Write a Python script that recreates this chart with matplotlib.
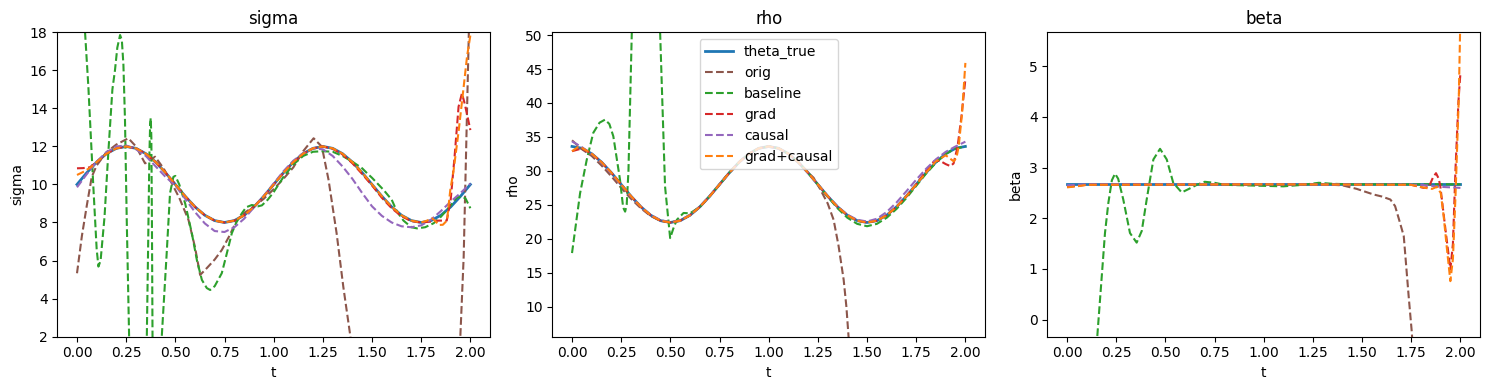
import numpy as np
import matplotlib
matplotlib.use("Agg")
import matplotlib.pyplot as plt

t_grid = np.linspace(0, 2, 41)

# ---- sigma ----
sig_true = [10.0, 10.62, 11.18, 11.62, 11.9, 12.0, 11.9, 11.62, 11.18, 10.62, 10.0,
            9.38, 8.82, 8.38, 8.1, 8.0, 8.1, 8.38, 8.82, 9.38, 10.0,
            10.62, 11.18, 11.62, 11.9, 12.0, 11.9, 11.62, 11.18, 10.62, 10.0,
            9.38, 8.82, 8.38, 8.1, 8.0, 8.1, 8.38, 8.82, 9.38, 10.0]

sig_orig_t = [0, 0.025, 0.05, 0.075, 0.1, 0.15, 0.2, 0.261, 0.3, 0.346, 0.397, 0.44, 0.482,
              0.52, 0.567, 0.6, 0.626, 0.66, 0.7, 0.736, 0.775, 0.813, 0.85, 0.9, 0.95, 1.0,
              1.05, 1.1, 1.15, 1.203, 1.245, 1.279, 1.32, 1.354, 1.389, 1.42, 1.5, 1.6, 1.7,
              1.8, 1.9, 1.93, 1.949, 1.966, 1.992, 2.0]
sig_orig = [5.33, 7.3, 8.9, 10.4, 11.0, 11.7, 12.1, 12.43, 12.0, 11.11, 11.46, 10.85, 10.06,
            9.3, 8.13, 6.7, 5.24, 5.6, 6.05, 6.55, 7.3, 8.13, 8.5, 8.85, 9.25, 9.75,
            10.3, 10.9, 11.75, 12.43, 11.99, 10.24, 7.43, 4.62, 2.08, -0.5, -8, -15, -18,
            -16, -9, -3, 2.0, 6.2, 17.9, 22.0]

sig_base_t = [0, 0.02, 0.041, 0.058, 0.083, 0.1, 0.109, 0.12, 0.14, 0.159, 0.18, 0.193, 0.205,
              0.219, 0.228, 0.236, 0.244, 0.253, 0.265, 0.28, 0.31, 0.34, 0.35, 0.355, 0.362,
              0.368, 0.372, 0.375, 0.378, 0.381, 0.384, 0.39, 0.41, 0.431, 0.456, 0.473, 0.49,
              0.5, 0.52, 0.55, 0.584, 0.61, 0.635, 0.66, 0.677, 0.7, 0.736, 0.76, 0.787, 0.81,
              0.838, 0.86, 0.889, 0.92, 0.94, 0.97, 1.0, 1.05, 1.1, 1.15, 1.2, 1.25, 1.3, 1.35,
              1.4, 1.45, 1.474, 1.5, 1.559, 1.6, 1.627, 1.66, 1.7, 1.729, 1.77, 1.813, 1.85,
              1.9, 1.93, 1.955, 1.975, 2.0]
sig_base = [30, 24, 18, 15.1, 9.9, 6.6, 5.68, 6.0, 8.3, 11.64, 15.0, 16.0, 17.2,
            17.86, 17.6, 16.3, 13.4, 8.1, 2.0, -4, -8, -4, -1, 2, 7,
            11.5, 13.2, 13.5, 12.5, 8, 2, -4, -6, 2, 6.38, 9.54, 10.4,
            10.45, 10.0, 9.0, 7.43, 6.0, 4.98, 4.55, 4.45, 4.65, 5.33, 6.3, 7.43, 8.0,
            8.48, 8.8, 8.92, 8.85, 8.9, 9.2, 9.6, 10.4, 11.05, 11.5, 11.72, 11.75, 11.72, 11.5,
            11.2, 10.85, 10.6, 10.35, 9.71, 9.2, 8.57, 8.1, 7.75, 7.69, 7.75, 7.96, 8.3,
            8.9, 9.3, 9.36, 9.27, 8.75]

sig_grad_t = [0, 0.03, 0.065, 0.1, 0.15, 0.2, 0.25, 0.3, 0.35, 0.4, 0.45, 0.5, 0.55, 0.6, 0.65,
              0.7, 0.75, 0.8, 0.85, 0.9, 0.95, 1.0, 1.05, 1.1, 1.15, 1.2, 1.25, 1.3, 1.35, 1.4,
              1.45, 1.5, 1.55, 1.6, 1.65, 1.7, 1.75, 1.8, 1.84, 1.88, 1.9, 1.92, 1.94, 1.957,
              1.97, 1.985, 2.0]
sig_grad = [10.85, 10.86, 10.9, 11.18, 11.62, 11.9, 12.0, 11.9, 11.62, 11.18, 10.62, 10.0, 9.38,
            8.82, 8.38, 8.1, 8.0, 8.1, 8.38, 8.82, 9.38, 10.0, 10.62, 11.18, 11.62, 11.9, 12.0,
            11.88, 11.58, 11.12, 10.55, 9.95, 9.3, 8.75, 8.33, 8.07, 8.0, 8.05, 8.1, 8.1, 9.2,
            11.5, 14.09, 14.79, 14.3, 13.6, 12.86]

sig_causal = [9.85, 10.55, 11.2, 11.7, 12.0, 12.05, 11.85, 11.5, 10.95, 10.4, 9.95,
              9.25, 8.55, 7.95, 7.55, 7.5, 7.75, 8.2, 8.8, 9.4, 10.05,
              10.7, 11.25, 11.65, 11.9, 11.85, 11.5, 10.95, 10.3, 9.55, 8.85,
              8.35, 8.0, 7.8, 7.75, 7.85, 8.15, 8.6, 9.1, 9.55, 10.05]

sig_gc_t = [0, 0.03, 0.07, 0.1, 0.15, 0.2, 0.25, 0.3, 0.35, 0.4, 0.45, 0.5, 0.55, 0.6, 0.65, 0.7,
            0.75, 0.8, 0.85, 0.9, 0.95, 1.0, 1.05, 1.1, 1.15, 1.2, 1.25, 1.3, 1.35, 1.4, 1.45,
            1.5, 1.55, 1.6, 1.65, 1.7, 1.75, 1.78, 1.805, 1.82, 1.839, 1.86, 1.881, 1.898,
            1.915, 1.941, 1.966, 1.983, 2.0]
sig_gc = [10.5, 10.65, 10.9, 11.18, 11.62, 11.9, 12.0, 11.9, 11.62, 11.18, 10.62, 10.0, 9.38,
          8.82, 8.38, 8.1, 8.0, 8.1, 8.38, 8.82, 9.38, 10.0, 10.62, 11.18, 11.62, 11.9, 12.0,
          11.9, 11.62, 11.18, 10.62, 10.0, 9.38, 8.82, 8.38, 8.1, 8.0, 8.1, 8.22, 8.1, 7.87,
          7.88, 8.1, 9.71, 10.76, 12.86, 15.14, 16.72, 17.85]

# ---- rho ----
rho_true = [33.6, 33.33, 32.53, 31.29, 29.73, 28.0, 26.27, 24.71, 23.47, 22.67, 22.4,
            22.67, 23.47, 24.71, 26.27, 28.0, 29.73, 31.29, 32.53, 33.33, 33.6,
            33.33, 32.53, 31.29, 29.73, 28.0, 26.27, 24.71, 23.47, 22.67, 22.4,
            22.67, 23.47, 24.71, 26.27, 28.0, 29.73, 31.29, 32.53, 33.33, 33.6]

rho_orig_t = [0, 0.05, 0.1, 0.15, 0.2, 0.25, 0.3, 0.35, 0.4, 0.45, 0.5, 0.55, 0.6, 0.65, 0.7,
              0.75, 0.8, 0.85, 0.9, 0.95, 1.0, 1.05, 1.1, 1.15, 1.2, 1.228, 1.26, 1.3, 1.33,
              1.355, 1.381, 1.395, 1.406, 1.45, 1.6, 1.8, 2.0]
rho_orig = [34.5, 33.2, 32.2, 30.8, 29.2, 27.5, 25.9, 24.5, 23.35, 22.65, 22.4, 22.67, 23.47,
            24.71, 26.27, 28.0, 29.73, 31.29, 32.53, 33.33, 33.6, 33.33, 32.53, 31.29, 29.73,
            29.0, 27.4, 25.2, 22.8, 19.0, 14.0, 10.0, 5.6, -8, -40, -80, -120]

rho_base_t = [0, 0.041, 0.075, 0.108, 0.14, 0.168, 0.19, 0.21, 0.244, 0.26, 0.27, 0.278,
              0.287, 0.304, 0.33, 0.375, 0.42, 0.448, 0.473, 0.499, 0.515, 0.533, 0.567, 0.6,
              0.65, 0.7, 0.75, 0.8, 0.85, 0.9, 0.95, 1.0, 1.05, 1.1, 1.15, 1.2, 1.25, 1.3,
              1.35, 1.4, 1.45, 1.5, 1.55, 1.6, 1.65, 1.7, 1.75, 1.8, 1.85, 1.9, 1.95, 2.0]
rho_base = [17.9, 26.7, 31.65, 35.6, 37.1, 37.55, 36.9, 35.1, 28.7, 24.6, 24.0, 25.0,
            30.0, 50.4, 70, 85, 70, 50.4, 27.7, 20.1, 21.5, 22.8, 23.8, 23.75,
            24.7, 26.27, 28.0, 29.73, 31.29, 32.53, 33.33, 33.6, 33.33, 32.53, 31.29, 29.73,
            28.0, 26.2, 24.5, 23.1, 22.2, 21.85, 22.2, 23.1, 24.4, 26.0, 27.8, 29.6, 31.2,
            32.5, 33.3, 33.6]

rho_grad_t = [0, 0.05, 0.1, 0.15, 0.2, 0.25, 0.3, 0.35, 0.4, 0.45, 0.5, 0.55, 0.6, 0.65, 0.7,
              0.75, 0.8, 0.85, 0.9, 0.95, 1.0, 1.05, 1.1, 1.15, 1.2, 1.25, 1.3, 1.35, 1.4, 1.45,
              1.5, 1.55, 1.6, 1.65, 1.7, 1.75, 1.8, 1.84, 1.87, 1.9, 1.924, 1.94, 1.96, 1.98, 2.0]
rho_grad = [32.9, 33.3, 32.53, 31.29, 29.73, 28.0, 26.27, 24.71, 23.47, 22.67, 22.4, 22.67,
            23.47, 24.71, 26.27, 28.0, 29.73, 31.29, 32.53, 33.33, 33.6, 33.33, 32.53, 31.29,
            29.73, 28.0, 26.27, 24.71, 23.47, 22.67, 22.4, 22.67, 23.47, 24.71, 26.27, 28.0,
            30.0, 31.4, 31.5, 31.0, 30.7, 31.1, 33.5, 38.0, 43.5]

rho_causal = [34.35, 33.5, 32.5, 31.2, 29.6, 27.9, 26.2, 24.7, 23.5, 22.75, 22.45,
              22.7, 23.5, 24.75, 26.3, 28.0, 29.7, 31.25, 32.5, 33.3, 33.55,
              33.3, 32.5, 31.25, 29.7, 28.0, 26.3, 24.75, 23.55, 22.8, 22.55,
              22.95, 23.95, 25.35, 27.0, 28.7, 30.3, 31.7, 32.8, 33.6, 34.3]

rho_gc_t = [0, 0.03, 0.05, 0.1, 0.15, 0.2, 0.25, 0.3, 0.35, 0.4, 0.45, 0.5, 0.55, 0.6, 0.65,
            0.7, 0.75, 0.8, 0.85, 0.9, 0.95, 1.0, 1.05, 1.1, 1.15, 1.2, 1.25, 1.3, 1.35, 1.4,
            1.45, 1.5, 1.55, 1.6, 1.65, 1.7, 1.75, 1.8, 1.85, 1.9, 1.941, 1.955, 1.966, 1.983, 2.0]
rho_gc = [32.9, 33.5, 33.4, 32.53, 31.29, 29.73, 28.0, 26.27, 24.71, 23.47, 22.67, 22.4,
          22.67, 23.47, 24.71, 26.27, 28.0, 29.73, 31.29, 32.53, 33.33, 33.6, 33.33, 32.53,
          31.29, 29.73, 28.0, 26.27, 24.71, 23.47, 22.67, 22.4, 22.67, 23.47, 24.71, 26.27,
          28.0, 29.73, 31.4, 32.3, 31.4, 32.0, 33.6, 38.5, 45.9]

# ---- beta ----
beta_true_t = [0, 1, 2]
beta_true = [2.67, 2.67, 2.67]

beta_orig_t = [0, 0.05, 0.1, 0.3, 0.6, 1.0, 1.3, 1.4, 1.473, 1.558, 1.6, 1.644, 1.668, 1.69,
               1.712, 1.737, 1.753, 1.78, 1.85, 2.0]
beta_orig = [2.62, 2.65, 2.66, 2.67, 2.67, 2.67, 2.67, 2.65, 2.58, 2.47, 2.43, 2.37, 2.24,
             1.95, 1.65, 0.46, -0.25, -2, -8, -20]

beta_base_t = [0, 0.08, 0.154, 0.193, 0.21, 0.228, 0.244, 0.26, 0.286, 0.32, 0.354, 0.38,
               0.405, 0.439, 0.473, 0.507, 0.54, 0.583, 0.62, 0.66, 0.7, 0.75, 0.8, 0.9, 1.0,
               1.1, 1.2, 1.28, 1.35, 1.45, 1.6, 1.8, 2.0]
beta_base = [-8, -3.5, -0.32, 1.71, 2.3, 2.75, 2.88, 2.78, 2.37, 1.71, 1.52, 1.75,
             2.37, 3.16, 3.37, 3.16, 2.7, 2.51, 2.58, 2.66, 2.72, 2.7, 2.66, 2.65, 2.64,
             2.63, 2.66, 2.7, 2.68, 2.67, 2.67, 2.67, 2.67]

beta_grad_t = [0, 0.05, 0.1, 1.0, 1.75, 1.813, 1.84, 1.86, 1.876, 1.89, 1.898, 1.924, 1.949,
               1.962, 1.975, 1.99, 2.0]
beta_grad = [2.62, 2.64, 2.66, 2.67, 2.66, 2.6, 2.62, 2.8, 2.89, 2.78, 2.63, 1.78, 0.99,
             1.5, 2.96, 4.3, 4.86]

beta_causal_t = [0, 0.1, 1.0, 1.8, 1.9, 2.0]
beta_causal = [2.65, 2.67, 2.67, 2.66, 2.62, 2.6]

beta_gc_t = [0, 0.05, 0.1, 1.0, 1.75, 1.82, 1.856, 1.88, 1.9, 1.915, 1.932, 1.949, 1.962,
             1.975, 1.992, 2.0]
beta_gc = [2.61, 2.63, 2.66, 2.67, 2.66, 2.6, 2.58, 2.62, 2.5, 2.04, 1.38, 0.76, 1.2,
           2.43, 4.4, 6.0]

names = ["sigma", "rho", "beta"]
ylims = [(2, 18), (5.6, 50.4), (-0.333, 5.667)]

panels = [
    [(t_grid, sig_true), (sig_orig_t, sig_orig), (sig_base_t, sig_base),
     (sig_grad_t, sig_grad), (t_grid, sig_causal), (sig_gc_t, sig_gc)],
    [(t_grid, rho_true), (rho_orig_t, rho_orig), (rho_base_t, rho_base),
     (rho_grad_t, rho_grad), (t_grid, rho_causal), (rho_gc_t, rho_gc)],
    [(beta_true_t, beta_true), (beta_orig_t, beta_orig), (beta_base_t, beta_base),
     (beta_grad_t, beta_grad), (beta_causal_t, beta_causal), (beta_gc_t, beta_gc)],
]

labels = ["theta_true", "orig", "baseline", "grad", "causal", "grad+causal"]
colors = ["C0", "C5", "C2", "C3", "C4", "C1"]

fig, axes = plt.subplots(1, 3, figsize=(14.89, 3.9), dpi=100)
fig.subplots_adjust(left=0.0385, right=0.994, bottom=0.137, top=0.917, wspace=0.144)

for i, ax in enumerate(axes):
    for j, (t, y) in enumerate(panels[i]):
        if j == 0:
            ax.plot(t, y, color=colors[j], lw=2, label=labels[j])
        else:
            ax.plot(t, y, "--", color=colors[j], label=labels[j])
    ax.set_title(names[i])
    ax.set_xlabel("t")
    ax.set_ylabel(names[i])
    ax.set_ylim(*ylims[i])

axes[1].legend(loc="upper center")

plt.savefig("out.png")
